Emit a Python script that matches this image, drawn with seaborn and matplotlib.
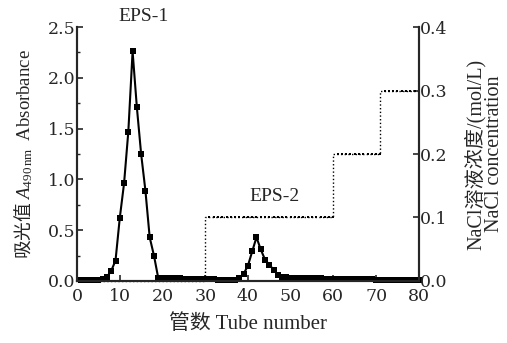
#importing libraries
import matplotlib
matplotlib.use('Agg')
import matplotlib.pyplot as plt
import seaborn as sns
import pandas as pd
import numpy as np

#absorbance of each tube (A490nm)
tubes = list(range(1, 81))
absorbance = [0.01, 0.01, 0.01, 0.01, 0.01, 0.02, 0.04, 0.10, 0.20, 0.62,
              0.96, 1.47, 2.26, 1.71, 1.25, 0.89, 0.43, 0.25, 0.03, 0.03,
              0.03, 0.03, 0.025, 0.025, 0.02, 0.02, 0.02, 0.02, 0.015, 0.02,
              0.015, 0.015, 0.01, 0.01, 0.01, 0.01, 0.01, 0.03, 0.07, 0.15,
              0.29, 0.43, 0.31, 0.21, 0.16, 0.11, 0.06, 0.04, 0.035, 0.03,
              0.03, 0.03, 0.028, 0.027, 0.025, 0.025, 0.024, 0.022, 0.02, 0.02,
              0.02, 0.02, 0.018, 0.018, 0.017, 0.016, 0.015, 0.015, 0.014, 0.013,
              0.013, 0.012, 0.012, 0.011, 0.01, 0.01, 0.01, 0.01, 0.01, 0.01]
#NaCl gradient (mol/L)
nacl = [0.0] * 30 + [0.1] * 30 + [0.2] * 11 + [0.3] * 9
xticks = list(range(0, 81, 10))
left_ticks = [0.0, 0.5, 1.0, 1.5, 2.0, 2.5]
right_ticks = [0.0, 0.1, 0.2, 0.3, 0.4]

df = pd.DataFrame({'tube': tubes, 'abs': absorbance, 'nacl': nacl})

sns.set_style('ticks')
plt.rcParams['font.family'] = ['Liberation Serif', 'Noto Sans CJK SC']
plt.rcParams['mathtext.fontset'] = 'custom'
plt.rcParams['mathtext.rm'] = 'Liberation Serif'
plt.rcParams['mathtext.it'] = 'Liberation Serif:style=italic'
plt.rcParams['xtick.direction'] = 'in'
plt.rcParams['ytick.direction'] = 'in'

fig = plt.figure(figsize=(5.07, 3.43), dpi=100)
ax = fig.add_axes([0.152, 0.181, 0.674, 0.740])
ax2 = ax.twinx()

#elution curve
sns.lineplot(data=df, x='tube', y='abs', ax=ax, color='black', lw=1.5,
             marker='s', markersize=5, markeredgewidth=0, clip_on=False, zorder=5)
#NaCl step gradient
sns.lineplot(data=df, x='tube', y='nacl', ax=ax2, color='black', lw=1,
             linestyle=':', marker='s', markersize=2, markeredgewidth=0,
             drawstyle='steps-pre', clip_on=False)

ax.set_xlim(0, 80)
ax.set_ylim(0, 2.5)
ax2.set_ylim(0, 0.4)
ax.set_xticks(xticks)
ax.set_yticks(left_ticks)
ax.set_yticks(np.arange(0, 2.51, 0.25), minor=True)
ax.set_yticklabels([f'{v:.1f}' for v in left_ticks])
ax2.set_yticks(right_ticks)
ax2.set_yticklabels([f'{v:.1f}' for v in right_ticks])

for a in (ax, ax2):
    a.spines['top'].set_visible(False)
    for s in a.spines.values():
        s.set_linewidth(1.5)
    a.tick_params(length=4, width=1.2, pad=1)
    for lab in a.get_xticklabels() + a.get_yticklabels():
        lab.set_family('DejaVu Serif')
        lab.set_fontsize(12.5)
ax.tick_params(axis='x', pad=5)
ax.tick_params(which='minor', length=2.5, width=1)

ax.set_xlabel('管数 Tube number', fontsize=15, labelpad=7)
ax.set_ylabel(r'吸光值 $A_{\mathrm{490\,nm}}$  $\mathrm{Absorbance}$',
              fontsize=13.5, family='Noto Sans CJK SC', labelpad=9)
ax2.set_ylabel('NaCl溶液浓度/(mol/L)\nNaCl concentration', fontsize=14.5,
               linespacing=0.9, labelpad=12)

ax.text(15.5, 2.6, 'EPS-1', fontsize=14, ha='center', va='center')
ax.text(46.3, 0.83, 'EPS-2', fontsize=14, ha='center', va='center')

plt.savefig('out.png', dpi=100)
